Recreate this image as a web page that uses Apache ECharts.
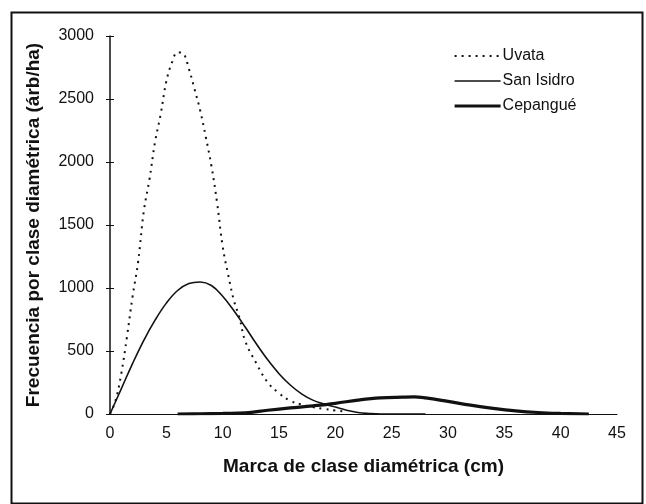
<!DOCTYPE html>
<html>
<head>
<meta charset="utf-8">
<script src="https://cdn.jsdelivr.net/npm/echarts@6/dist/echarts.min.js"></script>
<style>html,body{margin:0;padding:0;background:#fff}#c{width:646px;height:504px}</style>
</head>
<body>
<div id="c"></div>
<script>
// Uvata (dotted)
const uvataX = [0, 0.5, 1, 1.5, 2, 2.5, 3, 3.5, 4, 4.5, 5, 5.5, 6, 6.5, 7, 7.5, 8, 8.5, 9, 9.5, 10, 10.5, 11, 11.5, 12, 13, 14, 15, 16, 17, 18, 19, 20, 21];
const uvataY = [0, 110, 320, 610, 930, 1210, 1610, 1860, 2160, 2380, 2640, 2790, 2870, 2860, 2740, 2580, 2410, 2200, 1970, 1680, 1330, 1100, 900, 760, 580, 400, 250, 165, 105, 75, 55, 40, 28, 18];
// San Isidro (solid thin)
const sanIsidroX = [0, 1, 2, 3, 4, 5, 6, 7, 8, 9, 10, 11, 12, 13, 14, 15, 16, 17, 18, 19, 20, 21, 22, 23, 24, 26, 28];
const sanIsidroY = [0, 200, 400, 585, 745, 880, 980, 1035, 1048, 1020, 935, 820, 690, 555, 430, 320, 230, 160, 110, 80, 55, 30, 12, 4, 0, 0, 0];
// Cepangué (thick)
const cepangueX = [6, 8, 10, 12, 14, 16, 18, 20, 22, 24, 26, 27, 28, 30, 32, 34, 36, 38, 40, 42.5];
const cepangueY = [0, 2, 5, 10, 30, 48, 65, 85, 110, 128, 134, 136, 128, 100, 70, 45, 25, 12, 5, 0];

const xTicks = [0, 5, 10, 15, 20, 25, 30, 35, 40, 45];
const yTicks = [0, 500, 1000, 1500, 2000, 2500, 3000];

const seriesNames = ['Uvata', 'San Isidro', 'Cepangué'];

function pairs(xs, ys) { return xs.map((x, i) => [x, ys[i]]); }

const font = 'Liberation Sans, Arial, sans-serif';
const chart = echarts.init(document.getElementById('c'), null, { renderer: 'canvas' });
chart.setOption({
  animation: false,
  backgroundColor: '#fff',
  grid: { left: 110, right: 29, top: 36, bottom: 90, containLabel: false },
  legend: {
    orient: 'vertical', left: 448, top: 43,
    itemWidth: 46, itemHeight: 14, itemGap: 9,
    itemStyle: { color: 'transparent', borderWidth: 0, opacity: 0 },
    textStyle: { fontFamily: font, fontSize: 16, color: '#111', padding: [0, 0, 0, -3] },
    data: [
      { name: seriesNames[0], lineStyle: { width: 2, type: [2, 5], color: '#111' } },
      { name: seriesNames[1], lineStyle: { width: 1.6, color: '#111' } },
      { name: seriesNames[2], lineStyle: { width: 3.2, color: '#111' } }
    ]
  },
  xAxis: {
    type: 'value', min: xTicks[0], max: xTicks[xTicks.length - 1], interval: 5,
    name: 'Marca de clase diamétrica (cm)', nameLocation: 'middle', nameGap: 43,
    nameTextStyle: { fontFamily: font, fontSize: 19, fontWeight: 'bold', color: '#111' },
    axisLine: { lineStyle: { color: '#111', width: 1 } },
    axisTick: { show: false },
    splitLine: { show: false },
    axisLabel: { fontFamily: font, fontSize: 16, color: '#111', margin: 12, formatter: v => String(v) }
  },
  yAxis: [{
    type: 'value', min: yTicks[0], max: yTicks[yTicks.length - 1], interval: 500,
    name: 'Frecuencia por clase diamétrica (árb/ha)', nameLocation: 'middle', nameGap: 67,
    nameTextStyle: { fontFamily: font, fontSize: 19, fontWeight: 'bold', color: '#111' },
    axisLine: { show: true, lineStyle: { color: '#111', width: 1.5 } },
    axisTick: { show: true, length: 4, lineStyle: { color: '#111' } },
    splitLine: { show: false },
    axisLabel: { fontFamily: font, fontSize: 16, color: '#111', margin: 16, formatter: v => String(v) }
  }, {
    type: 'value', position: 'left', min: yTicks[0], max: yTicks[yTicks.length - 1], interval: 500,
    axisLine: { show: false },
    axisTick: { show: true, inside: true, length: 4, lineStyle: { color: '#111' } },
    splitLine: { show: false },
    axisLabel: { show: false }
  }],
  series: [
    { name: seriesNames[0], type: 'line', smooth: 0.4, symbol: 'none', data: pairs(uvataX, uvataY),
      lineStyle: { color: '#111', width: 2, type: [2, 5] }, itemStyle: { color: '#111' } },
    { name: seriesNames[1], type: 'line', smooth: 0.4, symbol: 'none', data: pairs(sanIsidroX, sanIsidroY),
      lineStyle: { color: '#111', width: 1.6 }, itemStyle: { color: '#111' } },
    { name: seriesNames[2], type: 'line', smooth: 0.4, symbol: 'none', data: pairs(cepangueX, cepangueY),
      lineStyle: { color: '#111', width: 3.2 }, itemStyle: { color: '#111' } }
  ],
  graphic: [{
    type: 'rect', left: 9, top: 10,
    shape: { width: 631, height: 491 },
    style: { fill: 'none', stroke: '#111', lineWidth: 2 }, silent: true
  }]
});
</script>
</body>
</html>
